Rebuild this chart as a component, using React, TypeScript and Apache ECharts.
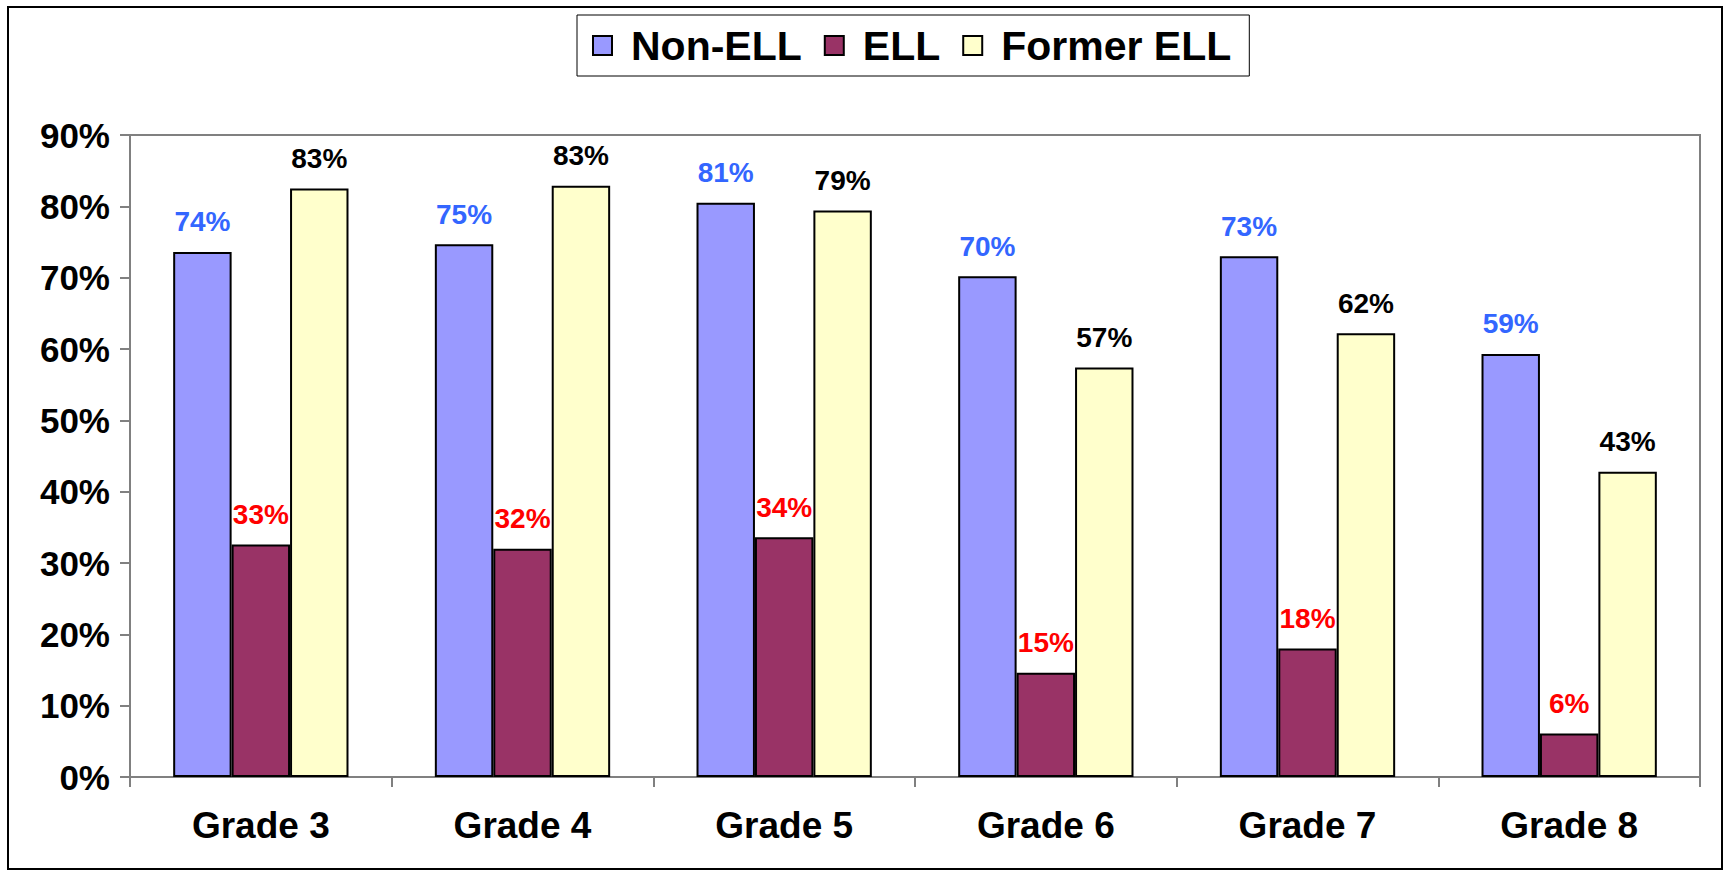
import React, { useEffect, useRef } from "react";
import * as echarts from "echarts";

const categories = ["Grade 3", "Grade 4", "Grade 5", "Grade 6", "Grade 7", "Grade 8"];
const nonEll = [73.6, 74.7, 80.5, 70.2, 73.0, 59.3];
const ell = [32.6, 32.0, 33.6, 14.6, 18.0, 6.1];
const formerEll = [82.5, 82.9, 79.4, 57.4, 62.2, 42.8];
const seriesNames = ["Non-ELL", "ELL", "Former ELL"];
const yTicks = { min: 0, max: 90, interval: 10 };

const FONT = '"Liberation Sans", Arial, sans-serif';

export default function App() {
  const ref = useRef<HTMLDivElement>(null);
  useEffect(() => {
    if (!ref.current) return;
    const chart = echarts.init(ref.current, null, { renderer: "svg" });
    const mk = (name: string, data: number[], color: string, labelColor: string) => ({
      name,
      type: "bar",
      data,
      barGap: "0%",
      barCategoryGap: "33%",
      itemStyle: { color, borderColor: "#000", borderWidth: 2 },
      label: {
        show: true,
        position: "top",
        distance: 16,
        color: labelColor,
        fontFamily: FONT,
        fontWeight: "bold",
        fontSize: 28,
        formatter: (p: any) => Math.round(p.value) + "%",
      },
    });
    chart.setOption({
      animation: false,
      backgroundColor: "#fff",
      textStyle: { fontFamily: FONT },
      graphic: [
        {
          type: "rect",
          shape: { x: 8, y: 7, width: 1714, height: 862 },
          style: { fill: "none", stroke: "#000", lineWidth: 2 },
          silent: true,
        },
      ],
      legend: {
        left: 577,
        top: 15,
        padding: [10, 18, 10, 15],
        borderColor: "#000",
        borderWidth: 1,
        itemWidth: 19,
        itemHeight: 19,
        itemGap: 22,
        icon: "rect",
        itemStyle: { borderColor: "#000", borderWidth: 2 },
        textStyle: {
          fontFamily: FONT,
          fontWeight: "bold",
          fontSize: 41,
          color: "#000",
          padding: [0, 0, 0, 14],
        },
        data: seriesNames,
      },
      grid: {
        left: 130,
        right: 26,
        top: 135,
        bottom: 96,
        show: true,
        borderColor: "#808080",
        borderWidth: 2,
        containLabel: false,
      },
      xAxis: {
        type: "category",
        data: categories,
        axisLine: { lineStyle: { color: "#808080", width: 2 } },
        axisTick: { show: true, length: 10, lineStyle: { color: "#808080", width: 2 } },
        axisLabel: {
          margin: 30,
          color: "#000",
          fontFamily: FONT,
          fontWeight: "bold",
          fontSize: 37,
        },
      },
      yAxis: {
        type: "value",
        min: yTicks.min,
        max: yTicks.max,
        interval: yTicks.interval,
        splitLine: { show: false },
        axisLine: { show: true, lineStyle: { color: "#808080", width: 2 } },
        axisTick: { show: true, length: 10, lineStyle: { color: "#808080", width: 2 } },
        axisLabel: {
          margin: 20,
          color: "#000",
          fontFamily: FONT,
          fontWeight: "bold",
          fontSize: 35,
          formatter: "{value}%",
        },
      },
      series: [
        mk(seriesNames[0], nonEll, "#9999FF", "#3366FF"),
        mk(seriesNames[1], ell, "#993366", "#FF0000"),
        mk(seriesNames[2], formerEll, "#FFFFCC", "#000000"),
      ],
    });
    return () => chart.dispose();
  }, []);
  return (
    <div
      ref={ref}
      style={{ position: "absolute", left: 0, top: 0, width: 1726, height: 873 }}
    />
  );
}
